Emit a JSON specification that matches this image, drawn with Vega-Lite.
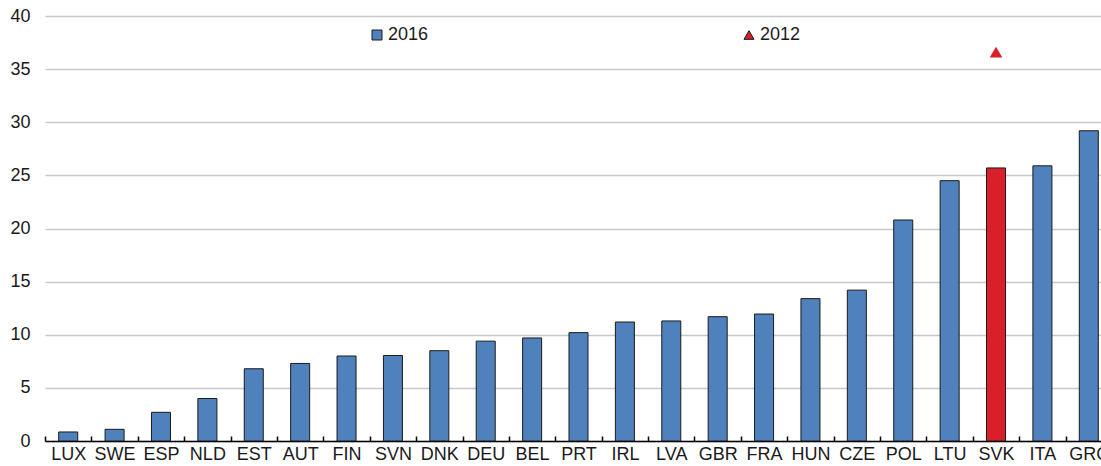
{
  "$schema": "https://vega.github.io/schema/vega-lite/v6.json",
  "width": 1056,
  "height": 425,
  "autosize": {"type": "none"},
  "padding": {"left": 45, "top": 16, "right": 0, "bottom": 25},
  "background": "white",
  "config": {
    "view": {"stroke": null},
    "font": "Liberation Sans Narrow, Liberation Sans",
    "axis": {"labelFont": "Liberation Sans Narrow, Liberation Sans", "labelFontSize": 18, "labelColor": "#1a1a1a"}
  },
  "datasets": {
    "bars": [
      {"country": "LUX", "series": "2016", "value": 0.85},
      {"country": "SWE", "series": "2016", "value": 1.1},
      {"country": "ESP", "series": "2016", "value": 2.7},
      {"country": "NLD", "series": "2016", "value": 4.0},
      {"country": "EST", "series": "2016", "value": 6.8},
      {"country": "AUT", "series": "2016", "value": 7.3},
      {"country": "FIN", "series": "2016", "value": 8.0},
      {"country": "SVN", "series": "2016", "value": 8.05},
      {"country": "DNK", "series": "2016", "value": 8.5},
      {"country": "DEU", "series": "2016", "value": 9.4},
      {"country": "BEL", "series": "2016", "value": 9.7},
      {"country": "PRT", "series": "2016", "value": 10.2},
      {"country": "IRL", "series": "2016", "value": 11.2},
      {"country": "LVA", "series": "2016", "value": 11.3},
      {"country": "GBR", "series": "2016", "value": 11.7},
      {"country": "FRA", "series": "2016", "value": 11.95},
      {"country": "HUN", "series": "2016", "value": 13.4},
      {"country": "CZE", "series": "2016", "value": 14.2},
      {"country": "POL", "series": "2016", "value": 20.8},
      {"country": "LTU", "series": "2016", "value": 24.5},
      {"country": "SVK", "series": "2016", "value": 25.7},
      {"country": "ITA", "series": "2016", "value": 25.9},
      {"country": "GRC", "series": "2016", "value": 29.2}
    ],
    "points": [
      {"country": "SVK", "series": "2012", "value": 36.6}
    ]
  },
  "layer": [
    {
      "data": {"name": "bars"},
      "mark": {"type": "bar", "stroke": "#1a1a1a", "strokeWidth": 1, "width": {"band": 0.41}, "clip": true},
      "encoding": {
        "x": {
          "field": "country", "type": "nominal", "sort": null,
          "scale": {"range": [0, 1067], "paddingInner": 0, "paddingOuter": 0},
          "axis": {"title": null, "labelAngle": 0, "tickBand": "extent", "tickSize": -5, "tickColor": "#000", "tickWidth": 1.5, "domainColor": "#000", "domainWidth": 1.5, "labelPadding": 9, "grid": false}
        },
        "y": {
          "field": "value", "type": "quantitative",
          "scale": {"domain": [0, 40], "nice": false},
          "axis": {"title": null, "values": [0,5,10,15,20,25,30,35,40], "domain": false, "ticks": false, "labelPadding": 15, "grid": true, "gridColor": "#c8c8c8", "gridWidth": 1.5}
        },
        "color": {
          "condition": {"test": "datum.country === 'SVK'", "value": "#d9202a"},
          "field": "series", "type": "nominal",
          "scale": {"domain": ["2016", "2012"], "range": ["#4f81bd", "#d9202a"]}
        }
      }
    },
    {
      "data": {"name": "points"},
      "mark": {"type": "point", "filled": true, "size": 160, "opacity": 1},
      "encoding": {
        "x": {"field": "country", "type": "nominal", "sort": null},
        "y": {"field": "value", "type": "quantitative"},
        "color": {
          "field": "series", "type": "nominal",
          "scale": {"domain": ["2016", "2012"], "range": ["#4f81bd", "#d9202a"]},
          "legend": {
            "title": null, "orient": "none", "legendX": 323, "legendY": 10,
            "direction": "horizontal", "columnPadding": 311,
            "labelFont": "Liberation Sans Narrow, Liberation Sans", "labelFontSize": 18, "labelColor": "#1a1a1a",
            "symbolSize": 100, "labelOffset": 2,
            "symbolStrokeWidth": 1,
            "encode": {"symbols": {"update": {"stroke": {"signal": "datum.label === '2016' ? '#1a1a1a' : '#d9202a'"}}}}
          }
        },
        "shape": {
          "field": "series", "type": "nominal",
          "scale": {"domain": ["2016", "2012"], "range": ["square", "triangle-up"]}
        }
      }
    }
  ]
}
